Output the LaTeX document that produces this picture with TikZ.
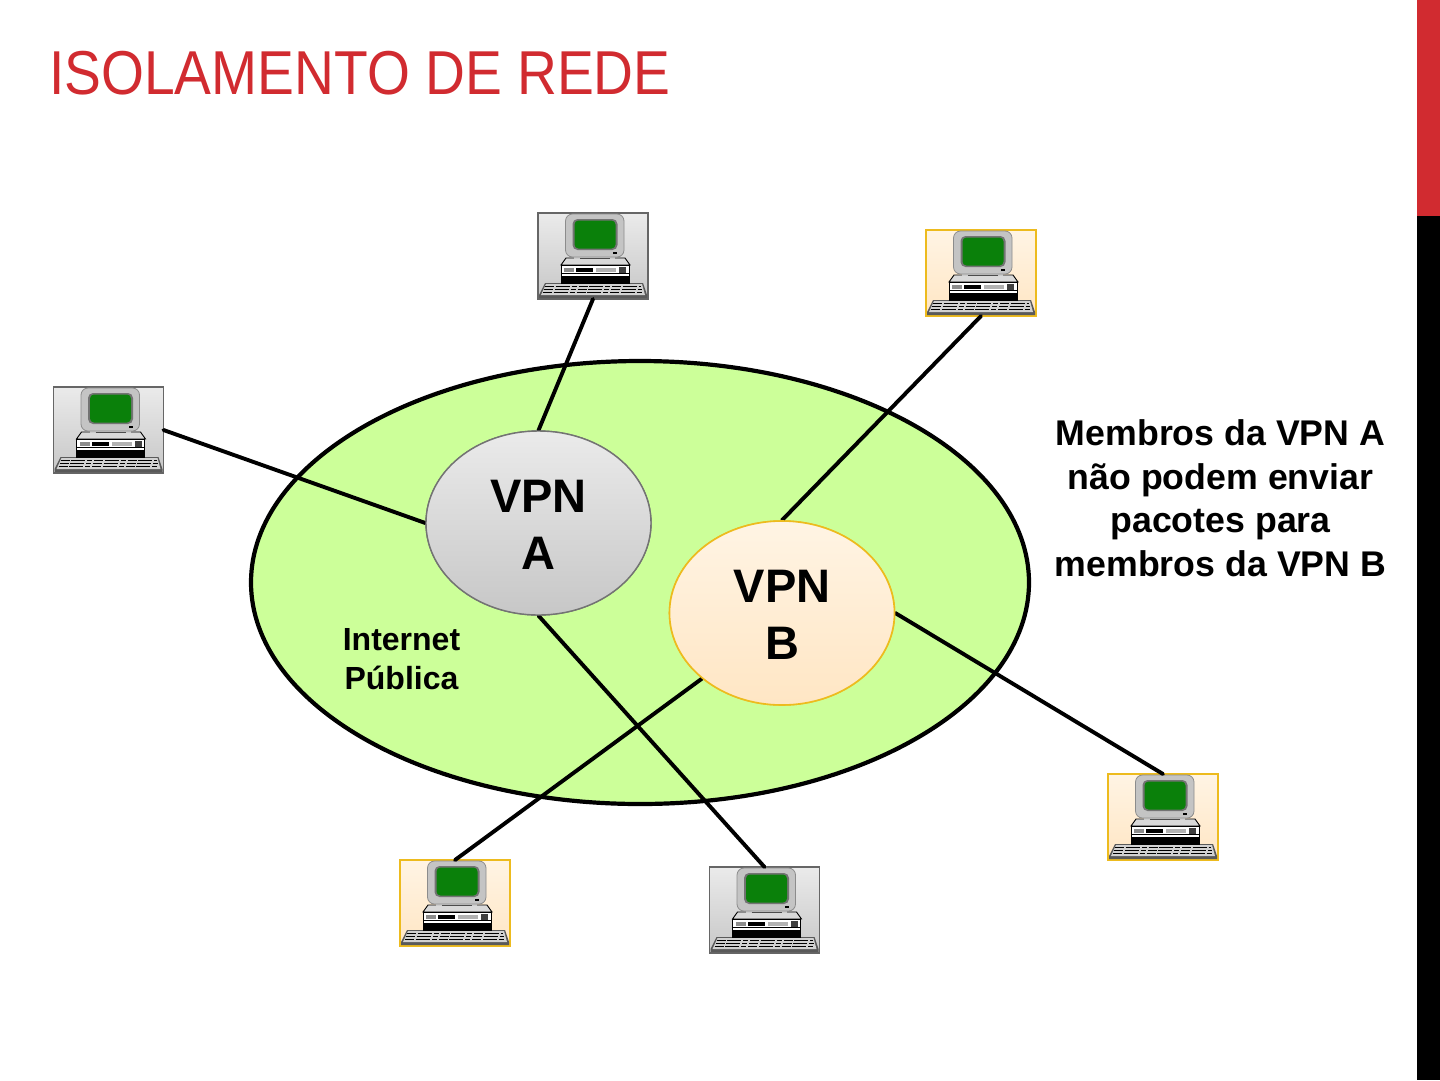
\documentclass[tikz,border=0pt]{standalone}
\usepackage{fontspec}
\usepackage{graphicx}
\setmainfont{Liberation Sans}
\usetikzlibrary{shapes.geometric}
\definecolor{titlered}{HTML}{D12B30}
\definecolor{cloudgreen}{HTML}{CCFF99}
\definecolor{goldline}{HTML}{EDBB1E}
\definecolor{pcgray}{HTML}{C4C4C4}
\definecolor{pcgreen}{HTML}{0A800A}
\definecolor{creamtop}{HTML}{FFF4E4}
\definecolor{creambot}{HTML}{FFE6C4}
\tikzset{
  pcbox/.style={draw,line width=1.4pt,minimum width=110pt,minimum height=86pt,inner sep=0pt,outer sep=0pt},
  pcA/.style={pcbox,draw=black!60,top color=black!8,bottom color=black!22},
  pcB/.style={pcbox,draw=goldline,top color=creamtop,bottom color=creambot},
  link/.style={draw=black,line width=3.9pt,line cap=round},
  vpnA/.style={ellipse,draw=black!55,line width=1.4pt,minimum width=225pt,minimum height=184pt,inner sep=0pt,top color=black!8,bottom color=black!22,align=center,font=\bfseries\fontsize{47}{57}\selectfont},
  vpnB/.style={ellipse,draw=goldline,line width=1.6pt,minimum width=225pt,minimum height=184pt,inner sep=0pt,top color=creamtop,bottom color=creambot,align=center,font=\bfseries\fontsize{47}{57}\selectfont},
  pc/.pic={
    \fill[black!65] (7,70) -- (105,70) -- (109,82) -- (109,85) -- (1,85) -- (1,82) -- cycle;
    \fill[black!18] (8,71) -- (104,71) -- (107,82) -- (3,82) -- cycle;
    \foreach \y/\l/\r in {73.5/7/103,76.5/6/104,79.5/5/105} {\draw[black,line width=1.3pt,dash pattern=on 9pt off 1.5pt on 14pt off 2pt on 5pt off 2pt] (\l,\y) -- (\r,\y);}
    \fill[black!15,draw=black,line width=.9pt] (28,45) -- (87,45) -- (92,52) -- (23,52) -- cycle;
    \fill[white,draw=black,line width=1pt] (23,52) rectangle (91,70);
    \fill[black] (23,63) rectangle (91,70);
    \draw[black,line width=.8pt] (23,60) -- (91,60);
    \fill[black] (38,54.5) rectangle (55,59);
    \fill[black!45] (26,55) rectangle (36,59);
    \fill[black!30] (58,55) rectangle (78,59);
    \fill[black!75] (81,54) rectangle (88,60);
    \fill[black!20] (36,40) rectangle (77,46);
    \draw[black!70,line width=.8pt] (42,45) -- (72,45);
    \fill[pcgray,draw=black!45,line width=.8pt,rounded corners=7pt] (27.5,1) rectangle (86,44);
    \fill[black!55,rounded corners=5pt] (34.5,6) rectangle (79.5,37);
    \fill[pcgreen,rounded corners=4pt] (36.5,7.5) rectangle (77.5,35.5);
    \fill[black] (75,38.5) rectangle (79,40.5);
  }
}
\begin{document}
\begin{tikzpicture}[x=1pt,y=-1pt]
\useasboundingbox (0,0) rectangle (1440,1080);
\fill[white] (0,0) rectangle (1440,1080);
\fill[black] (1417,216) rectangle (1440,1080);
\fill[titlered] (1417,0) rectangle (1440,216);
\node[anchor=west,inner sep=0pt,text=titlered,font=\fontsize{62}{62}\selectfont] (title) at (49,73) {\scalebox{0.89}[1]{ISOLAMENTO DE REDE}};
\node[ellipse,draw=black,line width=4.2pt,fill=cloudgreen,minimum width=778pt,minimum height=443pt,inner sep=0pt] (net) at (640,582.5) {};
\node[pcA] (c1) at (593,256) {};
\node[pcB] (c2) at (981,273) {};
\node[pcA] (c3) at (108.5,430) {};
\node[pcB] (c4) at (1163,817) {};
\node[pcB] (c5) at (455,903) {};
\node[pcA] (c6) at (764.5,910) {};
\foreach \c in {c1,c2,c3,c4,c5,c6} {\pic at (\c.north west) {pc};}
\coordinate (a) at (538.5,523);
\coordinate (b) at (782,613);
\node[vpnA] (A) at (a) {};
\node[vpnB] (B) at (b) {};
\draw[link] (c1.south) -- (A.north);
\draw[link] (c3.east) -- (A.west);
\draw[link] (c6.north) -- (A.south);
\draw[link] (c2.south) -- (B.north);
\draw[link] (c4.north) -- (B.east);
\draw[link] (c5.north) -- (B.south west);
\node[vpnA,text depth=0pt] at (a) {\raisebox{-3pt}{VPN}\\\raisebox{-3pt}{A}};
\node[vpnB,text depth=0pt] at (b) {\raisebox{-3pt}{VPN}\\\raisebox{-3pt}{B}};
\node[align=center,inner sep=0pt,font=\bfseries\fontsize{32}{39}\selectfont] (inet) at (401.5,659) {Internet\\Pública};
\node[align=center,inner sep=0pt,font=\bfseries\fontsize{35.7}{43.5}\selectfont] (note) at (1220.5,498) {Membros da VPN A\\não podem enviar\\pacotes para\\membros da VPN B};
\end{tikzpicture}
\end{document}
